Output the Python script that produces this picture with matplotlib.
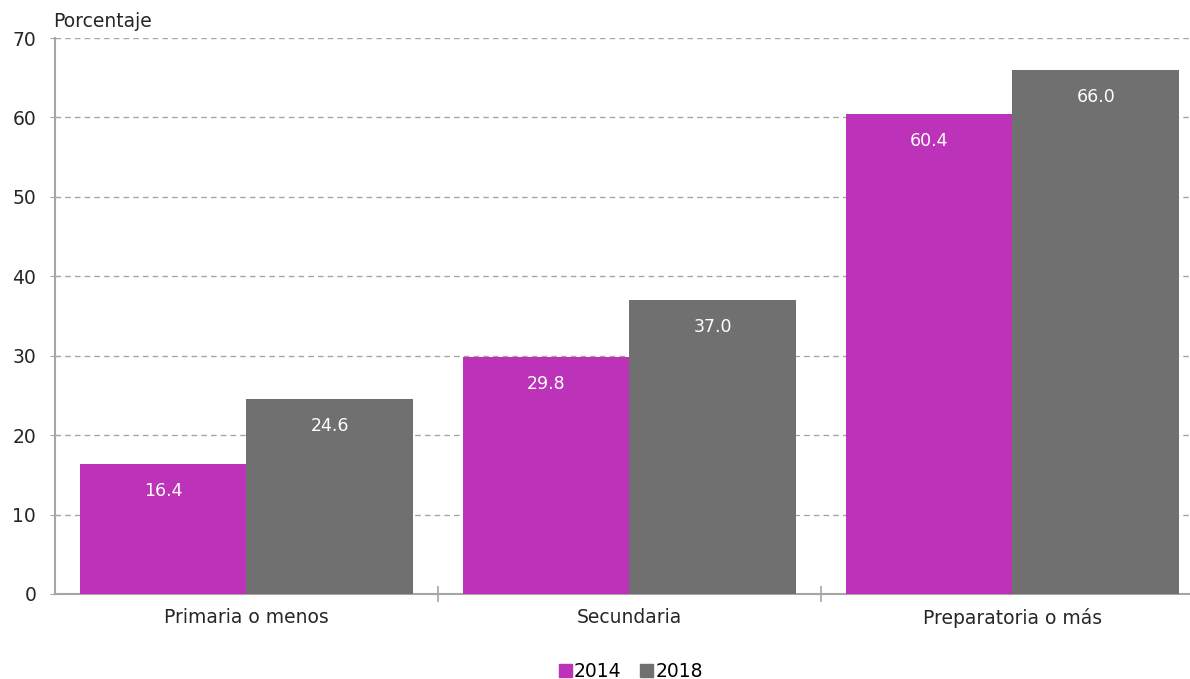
import numpy as np
import matplotlib
matplotlib.use("Agg")
import matplotlib.pyplot as plt
from matplotlib.patches import Patch

plt.rcParams['font.family'] = ['DejaVu Sans']

categories = ["Primaria o menos", "Secundaria", "Preparatoria o más"]
years = ["2014", "2018"]
vals_2014 = [16.4, 29.8, 60.4]
vals_2018 = [24.6, 37.0, 66.0]
colors = ["#BC32B8", "#707070"]

fig = plt.figure(figsize=(11.9, 6.79), dpi=100)
ax = fig.add_axes([0.0462, 0.1252, 0.9655, 0.8188])

x = np.arange(len(categories))
w = 0.435
b1 = ax.bar(x - w / 2, vals_2014, w, color=colors[0], zorder=3)
b2 = ax.bar(x + w / 2, vals_2018, w, color=colors[1], zorder=3)

# value labels inside bars, near the top
for bars in (b1, b2):
    for r in bars:
        h = r.get_height()
        ax.annotate(f"{h:.1f}", (r.get_x() + r.get_width() / 2, h),
                    xytext=(0, -19.5), textcoords="offset points",
                    ha="center", va="center", color="white", fontsize=12.5, zorder=4)

ax.set_xlim(-0.5, 2.5)
ax.set_ylim(0, 70)
ax.set_yticks(range(0, 71, 10))
ax.yaxis.grid(True, linestyle=(0, (4, 3)), color="#A6A6A6", linewidth=1)
ax.set_axisbelow(True)

ax.set_xticks(x)
ax.set_xticklabels(categories, fontsize=13.5)
ax.tick_params(axis="x", length=0, pad=10, colors="#262626")
ax.set_xticks([0.5, 1.5], minor=True)
ax.tick_params(axis="x", which="minor", length=12, width=1.2, direction="inout", color="#A6A6A6")
ax.tick_params(axis="y", labelsize=13.5, length=7, direction="inout", color="#A6A6A6",
               colors="#262626", pad=10)
for t in ax.get_yticklabels():
    t.set_color("#262626")

for s in ["top", "right"]:
    ax.spines[s].set_visible(False)
for s in ["left", "bottom"]:
    ax.spines[s].set_color("#A6A6A6")
    ax.spines[s].set_linewidth(1.5)

fig.text(0.045, 0.968, "Porcentaje", fontsize=13.5, color="#262626", va="center")

handles = [Patch(color=c) for c in colors]
fig.legend(handles, years, loc="center", bbox_to_anchor=(0.53, 0.011), ncol=2,
           frameon=False, fontsize=13.5, handlelength=0.7, handleheight=0.7,
           handletextpad=0.1, columnspacing=1.0)

fig.savefig("out.png", dpi=100)
